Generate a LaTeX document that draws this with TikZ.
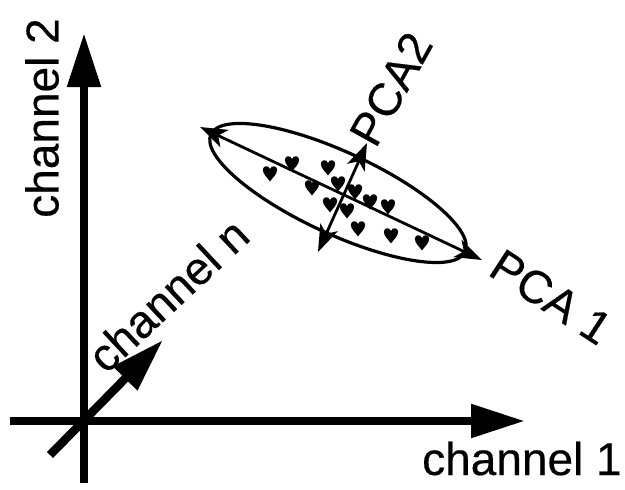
\documentclass[tikz,border=0pt]{standalone}
\usepackage{fontspec}
\setmainfont[FakeBold=0.4]{Liberation Sans}
\usetikzlibrary{arrows.meta}
\tikzset{
  axis/.style={line width=8.5pt,-{Triangle[length=54pt,width=32pt]}},
  pcaarrow/.style={line width=2.8pt,{Stealth[length=27pt,width=19pt,inset=7pt]}-{Stealth[length=27pt,width=19pt,inset=7pt]}},
  lbl/.style={inner sep=0pt,font=\fontsize{46}{50}\selectfont},
  heart/.pic={\fill[scale=1.3] (0,6.5) .. controls (-2,3.5) and (-5.5,1) .. (-5.5,-2.5) .. controls (-5.5,-5.5) and (-1,-6.5) .. (0,-3) .. controls (1,-6.5) and (5.5,-5.5) .. (5.5,-2.5) .. controls (5.5,1) and (2,3.5) .. (0,6.5) -- cycle;}
}
\begin{document}
\begin{tikzpicture}[x=1pt,y=-1pt]
\useasboundingbox (0,0) rectangle (625,490);
% axes
\coordinate (vbot) at (84,483);
\coordinate (vtop) at (84,33);
\coordinate (hleft) at (10,421);
\coordinate (hright) at (525,421);
\coordinate (nstart) at (50,455);
\coordinate (ntip) at (163,340);
\draw[axis] (vbot) -- (vtop);
\draw[axis] (hleft) -- (hright);
\draw[axis] (nstart) -- (ntip);
% labels
\node[lbl,rotate=90] (c2) at (42,118) {channel 2};
\node[lbl,anchor=base west] (c1) at (422,475) {channel 1};
\node[lbl,rotate=43] (cn) at (168,295) {channel n};
% ellipse and PCA arrows
\coordinate (ec) at (338,193);
\draw[line width=3.2pt,rotate around={-24.8:(ec)}] (ec) ellipse [x radius=140, y radius=41];
\coordinate (p1a) at (200,127);
\coordinate (p1b) at (482,260);
\coordinate (p2a) at (318,252);
\coordinate (p2b) at (367,143);
\draw[pcaarrow] (p1a) -- (p1b);
\draw[pcaarrow] (p2a) -- (p2b);
\node[lbl,rotate=61] (pca2) at (391,89) {PCA2};
\node[lbl,rotate=-33] (pca1) at (551,297) {PCA 1};
% data points
\foreach \p in {(270,173),(292,163),(328,167),(312,187),(338,183),(355,191),(330,204),(347,210),(370,201),(388,206),(358,228),(391,235),(422,242)}
  \pic at \p {heart};
\end{tikzpicture}
\end{document}
